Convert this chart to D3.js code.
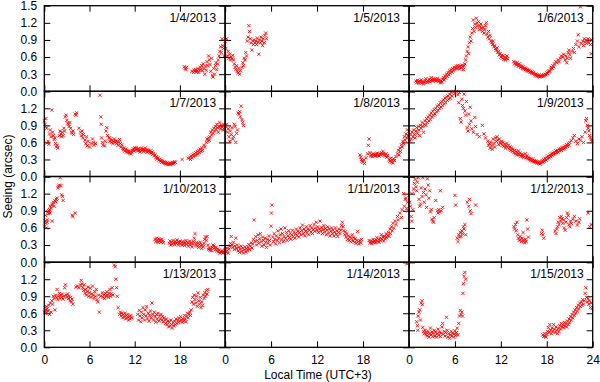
<!DOCTYPE html>
<html><head><meta charset="utf-8">
<script src="https://cdn.jsdelivr.net/npm/d3@7"></script>
<style>html,body{margin:0;padding:0;background:#fff;}svg{display:block;}</style>
</head><body>
<svg id="c" width="600" height="382"></svg>
<script>
const dates = ["1/4/2013","1/5/2013","1/6/2013","1/7/2013","1/8/2013","1/9/2013","1/10/2013","1/11/2013","1/12/2013","1/13/2013","1/14/2013","1/15/2013"];
const xTicks = [0,6,12,18,24];
const xTickLabels = ["0","6","12","18","24"];
const yTicks = [0,0.3,0.6,0.9,1.2,1.5];
const yTickLabels = ["0.0","0.3","0.6","0.9","1.2","1.5"];

const s0104 = [[18.6,0.43],[18.7,0.40],[18.8,0.38],[18.9,0.42],[19.6,0.35],[19.8,0.33],[19.9,0.37],[20.0,0.35],[20.1,0.38],[20.2,0.34],[20.3,0.36],[20.4,0.40],[20.5,0.33],[20.6,0.37],[20.7,0.42],[20.8,0.38],[20.9,0.45],[21.0,0.36],[21.1,0.48],[21.2,0.40],[21.3,0.30],[21.4,0.44],[21.5,0.37],[21.6,0.52],[21.7,0.45],[21.8,0.62],[21.9,0.55],[22.0,0.47],[22.1,0.35],[22.2,0.58],[22.3,0.28],[22.4,0.25],[22.5,0.40],[22.6,0.30],[22.7,0.45],[22.8,0.50],[22.9,0.38],[23.0,0.48],[23.1,0.55],[23.2,0.62],[23.3,0.70],[23.4,0.78],[23.5,0.68],[23.6,0.92],[23.7,0.80],[23.8,0.75],[23.9,0.62]];
const s0105 = [[0.0,0.88],[0.1,0.75],[0.2,0.92],[0.3,0.62],[0.4,0.70],[0.5,0.58],[0.6,0.65],[0.7,0.55],[0.8,0.60],[0.9,0.57],[1.0,0.63],[1.1,0.55],[1.2,0.48],[1.3,0.42],[1.4,0.38],[1.5,0.45],[1.6,0.35],[1.7,0.32],[1.8,0.40],[1.9,0.30],[2.0,0.36],[2.2,0.42],[2.3,0.50],[2.4,0.45],[2.5,0.58],[2.6,0.55],[2.7,0.68],[2.8,0.62],[2.9,0.88],[3.0,0.95],[3.1,1.15],[3.2,1.05],[3.3,0.92],[3.4,0.85],[3.5,0.72],[3.6,0.88],[3.7,0.82],[3.8,0.90],[3.9,0.85],[4.0,0.88],[4.1,0.82],[4.2,0.93],[4.3,0.86],[4.4,0.65],[4.5,0.90],[4.6,0.85],[4.7,0.95],[4.8,0.88],[4.9,0.80],[5.0,0.92],[5.1,0.85],[5.2,0.98],[5.3,1.02],[5.4,0.92]];
const s0106 = [[0.9,0.18],[1.0,0.15],[1.1,0.19],[1.2,0.17],[1.3,0.14],[1.4,0.18],[1.5,0.16],[1.6,0.20],[1.7,0.15],[1.8,0.17],[1.9,0.13],[2.0,0.16],[2.1,0.19],[2.2,0.22],[2.3,0.17],[2.4,0.15],[2.5,0.18],[2.6,0.21],[2.7,0.17],[2.8,0.19],[2.9,0.24],[3.0,0.20],[3.1,0.18],[3.2,0.22],[3.3,0.19],[3.4,0.21],[3.5,0.18],[3.6,0.20],[3.7,0.23],[3.8,0.19],[3.9,0.17],[4.0,0.20],[4.1,0.15],[4.2,0.18],[4.3,0.16],[4.4,0.21],[4.5,0.24],[4.6,0.20],[4.7,0.27],[4.8,0.23],[4.9,0.30],[5.0,0.26],[5.1,0.33],[5.2,0.29],[5.3,0.36],[5.4,0.32],[5.5,0.38],[5.6,0.34],[5.7,0.40],[5.8,0.36],[5.9,0.42],[6.0,0.38],[6.1,0.41],[6.2,0.44],[6.3,0.40],[6.4,0.45],[6.5,0.42],[6.6,0.39],[6.7,0.44],[6.8,0.41],[6.9,0.46],[7.0,0.43],[7.1,0.38],[7.2,0.45],[7.3,0.48],[7.4,0.55],[7.5,0.62],[7.6,0.70],[7.7,0.78],[7.8,0.66],[7.9,0.85],[8.0,0.95],[8.1,0.88],[8.2,1.02],[8.3,1.10],[8.4,1.25],[8.5,1.05],[8.6,1.18],[8.7,1.12],[8.8,1.28],[8.9,1.20],[9.0,1.15],[9.1,1.22],[9.2,1.08],[9.3,1.14],[9.4,1.18],[9.5,1.10],[9.6,1.05],[9.7,1.12],[9.8,1.02],[9.9,1.08],[10.0,1.15],[10.1,1.20],[10.2,1.00],[10.3,0.95],[10.4,1.05],[10.5,0.92],[10.6,0.98],[10.7,0.88],[10.8,0.85],[10.9,0.82],[11.0,0.88],[11.1,0.78],[11.2,0.80],[11.3,0.75],[11.4,0.72],[11.5,0.76],[11.6,0.68],[11.7,0.70],[11.8,0.64],[11.9,0.66],[12.0,0.60],[12.1,0.63],[12.2,0.58],[12.3,0.62],[12.4,0.56],[12.5,0.60],[12.6,0.55],[12.7,0.58],[12.8,0.62],[12.9,0.57],[13.7,0.52],[13.8,0.48],[13.9,0.50],[14.0,0.46],[14.1,0.50],[14.2,0.47],[14.3,0.44],[14.4,0.48],[14.5,0.45],[14.6,0.42],[14.7,0.44],[14.8,0.40],[14.9,0.43],[15.0,0.39],[15.1,0.41],[15.2,0.38],[15.3,0.40],[15.4,0.36],[15.5,0.38],[15.6,0.35],[15.7,0.37],[15.8,0.33],[15.9,0.35],[16.0,0.32],[16.1,0.34],[16.2,0.31],[16.3,0.33],[16.4,0.30],[16.5,0.28],[16.6,0.30],[16.7,0.27],[16.8,0.29],[16.9,0.26],[17.0,0.28],[17.1,0.25],[17.2,0.27],[17.3,0.26],[17.4,0.28],[17.5,0.26],[17.6,0.29],[17.7,0.27],[17.8,0.30],[17.9,0.29],[18.0,0.32],[18.1,0.31],[18.2,0.34],[18.3,0.36],[18.4,0.35],[18.5,0.39],[18.6,0.42],[18.7,0.40],[18.8,0.45],[18.9,0.43],[19.0,0.48],[19.2,0.52],[19.3,0.50],[19.5,0.55],[19.6,0.52],[19.8,0.58],[19.9,0.62],[20.1,0.60],[20.2,0.65],[20.4,0.55],[20.5,0.62],[20.6,0.50],[20.7,0.58],[20.8,0.68],[20.9,0.72],[21.0,0.64],[21.1,0.58],[21.3,0.70],[21.5,0.75],[21.6,0.68],[21.8,0.82],[22.0,0.88],[22.1,0.99],[22.2,0.78],[22.4,1.48],[22.5,0.84],[22.7,0.88],[22.8,0.80],[22.9,0.92],[23.0,0.86],[23.1,0.90],[23.2,0.84],[23.3,0.88],[23.4,0.92],[23.5,0.85],[23.6,0.89],[23.7,0.82],[23.8,0.66],[23.9,0.90]];
const s0107 = [[0.0,0.98],[0.1,0.92],[0.15,0.88],[0.2,1.02],[0.3,0.85],[0.4,0.59],[0.5,0.62],[0.6,0.57],[0.7,0.75],[0.8,0.82],[0.9,0.70],[1.0,1.17],[1.1,0.78],[1.2,0.72],[1.3,0.65],[1.4,0.68],[1.5,0.58],[1.6,0.52],[1.7,0.55],[1.8,0.50],[2.0,0.72],[2.1,0.80],[2.2,0.75],[2.3,0.70],[2.4,0.78],[2.5,0.72],[2.6,0.85],[2.7,0.80],[2.8,1.05],[2.9,1.08],[3.0,0.99],[3.1,0.94],[3.2,0.92],[3.3,0.88],[3.4,0.95],[3.5,0.85],[3.6,0.78],[3.7,0.76],[3.8,0.80],[3.9,0.74],[4.1,1.10],[4.2,1.08],[4.3,1.12],[4.6,0.85],[4.8,0.78],[4.9,0.72],[5.0,0.80],[5.1,0.68],[5.2,0.74],[5.4,0.64],[5.5,0.58],[5.6,0.70],[5.7,0.54],[5.8,0.62],[6.0,0.52],[6.2,0.58],[6.4,0.66],[6.5,0.60],[6.6,0.55],[6.8,0.58],[7.4,1.43],[7.5,1.05],[7.55,0.92],[7.6,0.68],[7.7,0.60],[7.8,0.55],[8.0,0.54],[8.1,0.62],[8.2,0.80],[8.3,0.86],[8.4,0.72],[8.6,0.68],[8.7,0.62],[8.8,0.66],[8.9,0.60],[9.0,0.64],[9.1,0.58],[9.2,0.62],[9.3,0.66],[9.4,0.60],[9.5,0.63],[9.6,0.58],[9.7,0.62],[9.8,0.55],[9.9,0.60],[10.0,0.65],[10.1,0.58],[10.2,0.52],[10.3,0.56],[10.4,0.50],[10.5,0.47],[10.6,0.50],[10.7,0.45],[10.8,0.48],[10.9,0.43],[11.0,0.46],[11.1,0.42],[11.2,0.45],[11.3,0.41],[11.4,0.44],[11.5,0.40],[11.6,0.43],[11.7,0.46],[11.8,0.49],[11.9,0.45],[12.0,0.50],[12.1,0.47],[12.2,0.51],[12.3,0.48],[12.4,0.45],[12.5,0.49],[12.6,0.46],[12.7,0.43],[12.8,0.47],[12.9,0.50],[13.0,0.46],[13.1,0.48],[13.2,0.44],[13.3,0.47],[13.4,0.50],[13.5,0.46],[13.6,0.43],[13.7,0.47],[13.8,0.44],[13.9,0.46],[14.0,0.42],[14.1,0.45],[14.2,0.41],[14.3,0.43],[14.4,0.39],[14.5,0.41],[14.6,0.36],[14.7,0.38],[14.8,0.33],[14.9,0.35],[15.0,0.31],[15.1,0.33],[15.2,0.29],[15.3,0.30],[15.4,0.27],[15.5,0.28],[15.6,0.25],[15.7,0.27],[15.8,0.24],[15.9,0.26],[16.0,0.23],[16.1,0.25],[16.2,0.22],[16.3,0.24],[16.4,0.21],[16.5,0.23],[16.6,0.22],[16.7,0.24],[16.8,0.21],[16.9,0.23],[17.0,0.25],[17.1,0.22],[17.2,0.24],[17.3,0.26],[17.4,0.25],[18.3,0.30],[19.1,0.32],[19.3,0.34],[19.4,0.30],[19.5,0.36],[19.6,0.33],[19.7,0.38],[19.8,0.35],[19.9,0.40],[20.0,0.37],[20.1,0.42],[20.2,0.38],[20.3,0.44],[20.4,0.40],[20.5,0.46],[20.6,0.42],[20.7,0.48],[20.8,0.44],[20.9,0.50],[21.0,0.46],[21.2,0.55],[21.3,0.52],[21.5,0.60],[21.6,0.66],[21.7,0.62],[21.8,0.68],[21.9,0.64],[22.0,0.70],[22.1,0.78],[22.2,0.73],[22.3,0.82],[22.4,0.76],[22.5,0.85],[22.6,0.80],[22.7,0.88],[22.8,0.83],[22.9,0.92],[23.0,0.86],[23.1,0.78],[23.2,0.88],[23.3,0.95],[23.4,0.84],[23.5,0.90],[23.6,0.87],[23.7,0.82],[23.8,0.92],[23.9,0.86]];
const s0108 = [[0.1,0.88],[0.2,0.92],[0.3,0.78],[0.4,0.84],[0.5,0.70],[0.6,0.62],[0.7,0.80],[0.8,0.74],[0.9,0.86],[1.0,0.66],[1.1,0.70],[1.2,0.92],[1.3,0.88],[1.4,0.60],[1.5,0.76],[1.6,0.82],[1.7,1.12],[1.8,1.10],[1.9,1.14],[2.0,1.05],[2.1,1.24],[2.2,1.00],[2.3,0.95],[2.4,0.90],[17.6,0.38],[17.7,0.34],[17.8,0.30],[17.9,0.27],[18.0,0.25],[18.1,0.29],[18.2,0.23],[18.4,0.33],[18.6,0.40],[18.7,0.55],[18.8,0.66],[18.9,0.42],[19.0,0.36],[19.1,0.38],[19.2,0.35],[19.3,0.40],[19.4,0.37],[19.5,0.39],[19.6,0.36],[19.7,0.38],[19.8,0.41],[19.9,0.37],[20.0,0.39],[20.1,0.36],[20.2,0.40],[20.3,0.38],[20.4,0.42],[20.5,0.39],[20.6,0.44],[20.7,0.41],[20.8,0.38],[20.9,0.36],[21.0,0.40],[21.1,0.34],[21.2,0.37],[21.4,0.30],[21.5,0.27],[21.6,0.32],[21.7,0.25],[21.8,0.29],[21.9,0.24],[22.0,0.31],[22.1,0.28],[22.3,0.35],[22.5,0.40],[22.6,0.46],[22.7,0.38],[22.8,0.50],[22.9,0.44],[23.0,0.56],[23.1,0.52],[23.2,0.62],[23.3,0.58],[23.4,0.70],[23.5,0.64],[23.6,0.75],[23.7,0.68],[23.8,0.82],[23.9,0.72]];
const s0109 = [[0.0,0.70],[0.1,0.62],[0.2,0.75],[0.3,0.66],[0.4,0.78],[0.5,0.70],[0.6,0.82],[0.7,0.74],[0.8,0.68],[0.9,0.80],[1.0,0.86],[1.1,0.76],[1.2,0.88],[1.3,0.82],[1.4,0.72],[1.5,0.90],[1.6,0.85],[1.7,0.95],[1.8,0.88],[1.9,0.78],[2.0,0.92],[2.1,0.98],[2.2,0.90],[2.3,1.02],[2.4,0.95],[2.5,1.05],[2.6,0.98],[2.7,1.08],[2.8,1.00],[2.9,1.12],[3.0,1.05],[3.1,1.15],[3.2,1.08],[3.3,1.18],[3.4,1.10],[3.5,1.20],[3.6,1.14],[3.7,1.24],[3.8,1.16],[3.9,1.26],[4.0,1.20],[4.1,1.30],[4.2,1.22],[4.3,1.32],[4.4,1.25],[4.5,1.35],[4.6,1.28],[4.7,1.38],[4.8,1.30],[4.9,1.40],[5.0,1.34],[5.1,1.42],[5.2,1.36],[5.3,1.45],[5.4,1.38],[5.5,1.48],[5.6,1.42],[5.8,1.50],[6.0,1.46],[6.2,1.50],[6.4,1.44],[6.5,1.30],[6.6,1.48],[6.7,1.02],[6.8,0.96],[6.9,1.36],[7.0,1.25],[7.1,1.20],[7.2,1.45],[7.3,1.15],[7.4,1.08],[7.5,1.32],[7.6,0.86],[7.7,0.80],[7.8,1.10],[7.9,0.92],[8.0,1.22],[8.1,0.98],[8.2,0.84],[8.4,0.78],[8.6,1.04],[8.7,0.88],[8.9,0.74],[9.2,0.70],[9.6,0.90],[9.8,0.75],[10.0,0.68],[10.3,0.62],[10.4,0.55],[10.5,0.58],[10.6,0.50],[10.7,0.60],[10.8,0.54],[10.9,0.48],[11.0,0.66],[11.1,0.58],[11.2,0.52],[11.3,0.68],[11.4,0.62],[11.5,0.70],[11.6,0.64],[11.7,0.56],[11.8,0.66],[11.9,0.60],[12.0,0.58],[12.1,0.62],[12.2,0.55],[12.3,0.60],[12.4,0.53],[12.5,0.57],[12.6,0.50],[12.7,0.54],[12.8,0.58],[12.9,0.51],[13.0,0.55],[13.1,0.48],[13.2,0.52],[13.3,0.46],[13.4,0.50],[13.5,0.44],[13.6,0.48],[13.7,0.42],[13.8,0.46],[13.9,0.40],[14.0,0.44],[14.1,0.38],[14.2,0.42],[14.3,0.45],[14.4,0.38],[14.5,0.41],[14.6,0.36],[14.7,0.39],[14.8,0.35],[14.9,0.38],[15.0,0.34],[15.2,0.40],[15.3,0.33],[15.4,0.36],[15.5,0.31],[15.6,0.34],[15.7,0.30],[15.8,0.32],[15.9,0.28],[16.0,0.31],[16.1,0.27],[16.2,0.30],[16.3,0.26],[16.4,0.28],[16.5,0.25],[16.6,0.27],[16.7,0.24],[16.8,0.26],[16.9,0.23],[17.0,0.25],[17.1,0.22],[17.2,0.24],[17.3,0.26],[17.4,0.28],[17.5,0.25],[17.6,0.30],[17.7,0.27],[17.8,0.32],[17.9,0.29],[18.0,0.34],[18.1,0.31],[18.2,0.36],[18.3,0.33],[18.4,0.38],[18.5,0.35],[18.6,0.40],[18.7,0.37],[18.8,0.41],[18.9,0.39],[19.0,0.43],[19.1,0.40],[19.2,0.45],[19.3,0.42],[19.4,0.46],[19.5,0.43],[19.6,0.48],[19.7,0.45],[19.8,0.49],[19.9,0.46],[20.0,0.51],[20.1,0.48],[20.2,0.52],[20.3,0.49],[20.4,0.54],[20.5,0.51],[20.6,0.56],[20.7,0.53],[20.8,0.58],[20.9,0.55],[21.0,0.60],[21.2,0.63],[21.4,0.68],[21.6,0.72],[21.8,0.62],[22.0,0.58],[22.2,0.66],[22.4,0.64],[22.6,0.70],[22.8,0.60],[23.0,0.78],[23.1,0.98],[23.2,1.02],[23.3,0.90],[23.4,0.85],[23.5,0.80],[23.6,0.72],[23.7,0.68],[23.8,0.65],[23.9,0.62]];
const s0110 = [[0.05,0.63],[0.1,0.72],[0.15,0.82],[0.2,0.68],[0.3,0.60],[0.35,0.70],[0.4,0.74],[0.5,0.88],[0.55,0.85],[0.6,0.90],[0.7,0.92],[0.75,0.86],[0.8,0.98],[0.9,0.95],[1.0,1.00],[1.05,0.72],[1.1,1.02],[1.2,1.05],[1.3,0.98],[1.4,1.08],[1.5,1.06],[1.6,1.10],[1.7,1.12],[1.8,1.30],[1.9,1.33],[2.0,1.35],[2.1,1.48],[2.2,1.34],[2.3,1.18],[2.4,1.15],[2.5,1.08],[3.7,0.82],[3.8,0.80],[4.1,0.86],[14.7,0.40],[14.8,0.36],[14.9,0.42],[15.0,0.38],[15.1,0.35],[15.2,0.41],[15.3,0.37],[15.4,0.39],[15.5,0.35],[15.6,0.40],[15.7,0.37],[15.8,0.34],[16.6,0.33],[16.7,0.37],[16.8,0.30],[16.9,0.35],[17.0,0.32],[17.1,0.38],[17.2,0.34],[17.3,0.31],[17.4,0.36],[17.5,0.33],[17.6,0.39],[17.7,0.35],[17.8,0.30],[17.9,0.34],[18.0,0.37],[18.1,0.32],[18.2,0.35],[18.3,0.30],[18.4,0.36],[18.5,0.33],[18.6,0.29],[18.7,0.34],[18.8,0.38],[18.9,0.31],[19.0,0.35],[19.1,0.28],[19.2,0.33],[19.3,0.37],[19.4,0.30],[19.5,0.34],[19.6,0.27],[19.7,0.32],[19.8,0.36],[19.9,0.42],[20.0,0.50],[20.1,0.30],[20.2,0.34],[20.3,0.28],[20.4,0.33],[20.5,0.26],[20.6,0.31],[20.7,0.35],[20.8,0.29],[20.9,0.24],[21.0,0.30],[21.1,0.27],[21.2,0.33],[21.3,0.40],[21.4,0.44],[21.5,0.38],[21.6,0.45],[21.7,0.30],[21.8,0.22],[21.9,0.25],[22.0,0.21],[22.1,0.24],[22.2,0.20],[22.3,0.26],[22.4,0.30],[22.5,0.28],[22.6,0.25],[22.7,0.22],[22.8,0.26],[22.9,0.20],[23.0,0.23],[23.1,0.18],[23.2,0.21],[23.3,0.16],[23.4,0.19],[23.5,0.17],[23.6,0.20],[23.7,0.16],[23.8,0.19],[23.9,0.17]];
const s0111 = [[0.0,0.22],[0.1,0.18],[0.2,0.25],[0.3,0.20],[0.4,0.16],[0.5,0.23],[0.6,0.28],[0.7,0.33],[0.8,0.45],[0.9,0.30],[1.0,0.26],[1.1,0.35],[1.2,0.22],[1.3,0.28],[1.4,0.42],[1.5,0.24],[1.6,0.30],[1.7,0.20],[1.8,0.26],[1.9,0.17],[2.0,0.23],[2.1,0.28],[2.2,0.19],[2.3,0.25],[2.4,0.16],[2.5,0.22],[2.6,0.27],[2.7,0.18],[2.8,0.24],[2.9,0.20],[3.0,0.26],[3.1,0.31],[3.2,0.22],[3.3,0.28],[3.4,0.34],[3.5,0.25],[3.6,0.32],[3.7,0.40],[3.8,0.74],[3.9,0.36],[4.0,0.45],[4.1,0.30],[4.2,0.38],[4.3,0.48],[4.4,0.33],[4.5,0.41],[4.6,0.50],[4.7,0.36],[4.8,0.28],[4.9,0.44],[5.0,0.38],[5.1,0.30],[5.2,0.42],[5.3,0.35],[5.4,0.26],[5.5,0.40],[5.6,0.33],[5.7,0.46],[5.8,0.38],[5.9,0.30],[6.0,0.63],[6.05,0.86],[6.1,1.00],[6.2,0.44],[6.3,0.36],[6.4,0.50],[6.5,0.40],[6.6,0.32],[6.7,0.46],[6.8,0.38],[6.9,0.55],[7.0,0.42],[7.1,0.34],[7.2,0.48],[7.3,0.58],[7.4,0.40],[7.5,0.50],[7.6,0.36],[7.7,0.45],[7.8,0.60],[7.9,0.42],[8.0,0.52],[8.1,0.38],[8.2,0.46],[8.3,0.55],[8.4,0.43],[8.5,0.50],[8.6,0.40],[8.7,0.48],[8.8,0.56],[8.9,0.45],[9.0,0.52],[9.1,0.42],[9.2,0.50],[9.3,0.58],[9.4,0.47],[9.5,0.54],[9.6,0.44],[9.7,0.52],[9.8,0.60],[9.9,0.48],[10.0,0.55],[10.1,0.65],[10.2,0.50],[10.3,0.58],[10.4,0.46],[10.5,0.54],[10.6,0.62],[10.7,0.52],[10.8,0.58],[10.9,0.48],[11.0,0.56],[11.1,0.64],[11.2,0.53],[11.3,0.60],[11.4,0.50],[11.5,0.57],[11.6,0.66],[11.7,0.54],[11.8,0.60],[11.9,0.70],[12.0,0.56],[12.1,0.62],[12.2,0.52],[12.3,0.58],[12.4,0.72],[12.5,0.55],[12.6,0.61],[12.7,0.50],[12.8,0.57],[12.9,0.64],[13.0,0.53],[13.1,0.59],[13.2,0.48],[13.3,0.56],[13.4,0.62],[13.5,0.51],[13.6,0.58],[13.7,0.46],[13.8,0.54],[13.9,0.60],[14.0,0.50],[14.1,0.56],[14.2,0.46],[14.3,0.53],[14.4,0.60],[14.5,0.49],[14.6,0.55],[14.7,0.45],[14.8,0.52],[14.9,0.58],[15.0,0.50],[15.1,0.56],[15.2,0.64],[15.3,0.70],[15.4,0.62],[15.5,0.55],[15.6,0.48],[15.7,0.53],[15.8,0.44],[15.9,0.50],[16.0,0.40],[16.1,0.46],[16.2,0.38],[16.3,0.44],[16.4,0.36],[16.5,0.42],[16.6,0.48],[16.7,0.37],[16.8,0.43],[16.9,0.35],[17.0,0.41],[17.1,0.33],[17.2,0.38],[17.3,0.54],[17.4,0.36],[17.5,0.32],[17.6,0.38],[17.7,0.34],[17.8,0.40],[18.8,0.38],[18.9,0.34],[19.0,0.37],[19.1,0.33],[19.2,0.36],[19.3,0.40],[19.4,0.35],[19.5,0.38],[19.6,0.34],[19.7,0.39],[19.8,0.43],[19.9,0.36],[20.0,0.40],[20.1,0.35],[20.2,0.42],[20.3,0.38],[20.4,0.48],[20.5,0.40],[20.6,0.44],[20.7,0.37],[20.8,0.45],[20.9,0.41],[21.0,0.50],[21.1,0.43],[21.2,0.47],[21.3,0.52],[21.4,0.45],[21.5,0.58],[21.6,0.50],[21.7,0.62],[21.8,0.55],[21.9,0.68],[22.0,0.60],[22.2,0.72],[22.3,0.66],[22.5,0.80],[22.6,0.74],[22.8,0.86],[23.0,0.78],[23.1,0.92],[23.3,1.20],[23.4,0.98],[23.5,1.10],[23.6,1.12],[23.7,0.94],[23.8,1.05],[23.9,0.90]];
const s0112 = [[0.1,1.05],[0.2,0.98],[0.3,0.80],[0.35,0.72],[0.4,1.20],[0.5,0.92],[0.6,1.28],[0.7,1.38],[0.8,1.45],[0.9,1.32],[1.0,1.25],[1.1,1.40],[1.2,1.48],[1.3,1.10],[1.4,0.98],[1.5,1.02],[1.6,1.30],[1.7,1.15],[1.8,1.48],[1.9,1.22],[2.0,1.05],[2.1,1.28],[2.2,1.18],[2.3,0.96],[2.4,1.46],[2.5,1.35],[2.6,1.12],[2.7,1.25],[2.8,0.88],[2.9,0.92],[3.0,0.75],[3.1,0.72],[3.2,0.70],[3.3,0.78],[3.5,1.08],[3.7,0.90],[3.8,0.86],[3.9,0.92],[4.0,0.88],[4.1,1.25],[4.2,0.90],[4.4,0.96],[6.0,1.17],[6.1,1.00],[6.3,0.42],[6.4,0.36],[6.5,0.48],[6.6,0.44],[6.7,0.52],[6.8,0.45],[6.9,0.55],[7.0,0.50],[7.1,0.62],[7.2,0.58],[7.3,0.66],[7.4,0.48],[7.6,1.05],[7.8,0.98],[7.9,1.10],[8.0,0.90],[8.1,0.85],[8.7,1.00],[13.7,0.62],[13.8,0.58],[13.9,0.66],[14.0,0.55],[14.1,0.70],[14.2,0.48],[14.3,0.42],[14.4,0.38],[14.5,0.45],[14.6,0.40],[14.7,0.36],[14.8,0.42],[14.9,0.52],[15.0,0.38],[15.1,0.34],[15.2,0.40],[15.3,0.36],[15.4,0.74],[15.5,0.58],[15.6,0.44],[17.3,0.50],[17.4,0.56],[17.5,0.48],[17.6,0.42],[19.1,0.55],[19.2,0.50],[19.3,0.58],[19.4,0.62],[19.5,0.70],[19.6,0.66],[19.7,0.78],[19.8,0.72],[19.9,0.80],[20.0,0.76],[20.1,0.68],[20.2,0.74],[20.3,0.60],[20.4,0.56],[20.5,0.70],[20.6,0.78],[20.7,0.86],[20.8,0.82],[20.9,0.66],[21.0,0.62],[21.1,0.72],[21.2,0.68],[21.4,0.75],[21.6,0.80],[21.8,0.72],[22.0,0.65],[22.2,0.70],[22.3,0.76],[23.4,0.86],[23.6,0.62],[23.8,0.66]];
const s0113 = [[0.05,0.62],[0.1,0.70],[0.15,0.60],[0.2,0.66],[0.25,0.72],[0.3,0.62],[0.4,0.68],[0.5,0.64],[0.6,0.74],[0.7,0.58],[0.8,0.78],[0.9,0.62],[1.0,0.82],[1.1,0.76],[1.2,0.90],[1.3,0.86],[1.4,0.66],[1.5,0.92],[1.6,0.88],[1.7,1.02],[1.8,0.84],[1.9,0.90],[2.0,0.95],[2.1,0.86],[2.2,0.92],[2.3,0.88],[2.4,0.94],[2.5,0.85],[2.6,0.90],[2.7,1.05],[2.8,1.10],[2.9,0.92],[3.0,0.88],[3.1,0.94],[3.2,0.86],[3.3,0.90],[3.4,0.82],[3.5,0.88],[3.6,0.80],[3.7,0.85],[3.8,0.76],[4.2,1.06],[4.4,1.08],[4.6,1.05],[4.8,1.10],[4.9,1.18],[5.0,1.12],[5.1,1.05],[5.2,1.00],[5.3,1.10],[5.4,0.95],[5.5,1.02],[5.6,0.92],[5.7,0.98],[5.8,1.06],[5.9,0.90],[6.0,0.96],[6.1,1.04],[6.2,0.88],[6.3,0.94],[6.4,1.08],[6.5,0.92],[6.6,0.86],[6.7,0.98],[6.8,0.90],[6.9,1.02],[7.0,0.84],[7.1,0.80],[7.2,0.92],[7.3,0.62],[7.5,0.90],[7.7,0.96],[7.8,0.88],[7.9,0.92],[8.0,0.86],[8.1,0.95],[8.2,0.90],[8.3,0.98],[8.4,0.92],[8.5,0.88],[8.6,0.95],[8.7,1.02],[8.8,0.90],[8.9,0.94],[9.0,1.05],[9.1,0.92],[9.3,1.45],[9.4,1.42],[9.5,1.20],[9.6,1.05],[9.7,0.90],[9.8,0.70],[10.0,0.58],[10.1,0.62],[10.2,0.55],[10.3,0.60],[10.4,0.52],[10.5,0.58],[10.6,0.54],[10.7,0.60],[10.8,0.50],[10.9,0.56],[11.0,0.52],[11.1,0.58],[11.2,0.48],[11.3,0.54],[11.4,0.50],[11.5,0.56],[11.6,0.52],[12.4,0.58],[12.5,0.48],[12.6,0.65],[12.7,0.55],[12.8,0.45],[12.9,0.62],[13.0,0.52],[13.1,0.70],[13.2,0.58],[13.3,0.48],[13.4,0.66],[13.5,0.55],[13.6,0.72],[13.7,0.50],[13.8,0.60],[13.9,0.46],[14.0,0.56],[14.1,0.64],[14.2,0.52],[14.3,0.78],[14.4,0.58],[14.5,0.48],[14.6,0.62],[14.7,0.54],[14.8,0.44],[14.9,0.58],[15.0,0.50],[15.1,0.60],[15.2,0.46],[15.3,0.55],[15.4,0.50],[15.5,0.58],[15.6,0.48],[15.7,0.54],[15.8,0.45],[15.9,0.52],[16.0,0.48],[16.1,0.42],[16.2,0.50],[16.3,0.40],[16.4,0.46],[16.5,0.36],[16.6,0.44],[16.7,0.38],[16.8,0.48],[16.9,0.40],[17.0,0.34],[17.1,0.44],[17.2,0.38],[17.3,0.46],[17.4,0.40],[17.5,0.50],[17.6,0.42],[17.7,0.48],[17.8,0.44],[17.9,0.52],[18.0,0.46],[18.1,0.54],[18.2,0.48],[18.3,0.44],[18.4,0.50],[18.5,0.46],[18.6,0.56],[18.7,0.50],[18.8,0.45],[18.9,0.55],[19.0,0.60],[19.1,0.52],[19.2,0.58],[19.3,0.62],[19.4,0.56],[19.5,0.66],[19.6,0.80],[19.7,0.88],[19.8,0.76],[19.9,0.92],[20.0,0.84],[20.1,0.78],[20.2,0.90],[20.3,0.72],[20.4,0.96],[20.5,0.82],[20.6,0.76],[20.7,0.88],[20.8,0.70],[20.9,0.80],[21.0,0.74],[21.1,0.92],[21.2,0.86],[21.3,0.96],[21.4,0.90],[21.5,1.00],[21.6,0.94],[21.7,1.02]];
const s0114 = [[23.7,1.47]];
const s0115 = [[1.0,0.45],[1.1,0.38],[1.15,0.30],[1.2,0.55],[1.3,0.62],[1.4,0.66],[1.5,0.48],[1.6,0.78],[1.7,0.82],[1.75,0.75],[1.8,0.35],[1.9,0.28],[2.0,0.24],[2.1,0.30],[2.2,0.22],[2.3,0.26],[2.4,0.20],[2.5,0.28],[2.6,0.18],[2.7,0.24],[2.8,0.34],[2.9,0.22],[3.0,0.27],[3.1,0.19],[3.2,0.25],[3.3,0.30],[3.4,0.20],[3.5,0.26],[3.6,0.18],[3.7,0.24],[3.8,0.32],[3.9,0.21],[4.0,0.27],[4.1,0.19],[4.2,0.25],[4.3,0.36],[4.4,0.42],[4.5,0.23],[4.6,0.28],[4.7,0.20],[4.8,0.26],[4.9,0.53],[5.0,0.30],[5.1,0.18],[5.2,0.24],[5.3,0.16],[5.4,0.22],[5.5,0.28],[5.6,0.20],[5.7,0.25],[5.8,0.18],[5.9,0.24],[6.0,0.29],[6.1,0.21],[6.2,0.26],[6.3,0.34],[6.4,0.22],[6.5,0.42],[6.6,0.55],[6.7,0.65],[6.8,0.58],[6.9,0.62],[7.0,0.55],[7.05,0.95],[7.1,1.12],[7.2,1.25],[7.3,1.32],[7.4,1.20],[17.5,0.22],[17.6,0.19],[17.7,0.24],[17.8,0.20],[17.9,0.18],[18.0,0.23],[18.1,0.28],[18.2,0.35],[18.3,0.26],[18.4,0.40],[18.5,0.30],[18.6,0.24],[18.7,0.34],[18.8,0.28],[18.9,0.40],[19.0,0.32],[19.1,0.26],[19.2,0.36],[19.3,0.30],[19.4,0.24],[19.5,0.33],[19.6,0.28],[19.7,0.38],[19.8,0.32],[19.9,0.42],[20.0,0.36],[20.1,0.40],[20.2,0.34],[20.3,0.44],[20.4,0.38],[20.5,0.42],[20.6,0.36],[20.7,0.46],[20.8,0.40],[20.9,0.50],[21.0,0.44],[21.1,0.54],[21.2,0.48],[21.3,0.58],[21.4,0.52],[21.5,0.62],[21.6,0.56],[21.7,0.66],[21.8,0.60],[21.9,0.70],[22.0,0.64],[22.1,0.74],[22.2,0.68],[22.3,0.78],[22.4,0.72],[22.5,0.80],[22.6,0.74],[22.7,0.84],[22.8,0.76],[22.9,0.82],[23.0,0.95],[23.1,1.05],[23.2,0.88],[23.3,0.80],[23.4,0.86],[23.5,0.76],[23.6,0.82],[23.7,0.70],[23.8,0.78],[23.9,0.68]];

const series = [s0104,s0105,s0106,s0107,s0108,s0109,s0110,s0111,s0112,s0113,s0114,s0115];

const svg = d3.select("#c");
const FONT = "'Liberation Sans', Arial, Helvetica, sans-serif";
const colEdges = [44.3, 225.1, 409, 592.7];
const rowEdges = [5.7, 91.3, 176.5, 262.2, 347.3];
const TL = 6;
const cross = "M-1.6,-1.6L1.6,1.6M-1.6,1.6L1.6,-1.6";

dates.forEach((date, i) => {
  const r = Math.floor(i / 3), c = i % 3;
  const x = d3.scaleLinear().domain([0, 24]).range([colEdges[c], colEdges[c+1]]);
  const y = d3.scaleLinear().domain([0, 1.5]).range([rowEdges[r+1], rowEdges[r]]);
  const g = svg.append("g");
  const tk = (sel) => { sel.select(".domain").remove(); sel.selectAll("line").attr("stroke", "#000").attr("stroke-width", 1); sel.selectAll("text").remove(); };
  g.append("g").attr("transform", `translate(0,${y(0)})`).call(d3.axisBottom(x).tickValues(xTicks).tickSize(-TL)).call(tk);
  g.append("g").attr("transform", `translate(0,${y(1.5)})`).call(d3.axisTop(x).tickValues(xTicks).tickSize(-TL)).call(tk);
  g.append("g").attr("transform", `translate(${x(0)},0)`).call(d3.axisLeft(y).tickValues(yTicks).tickSize(-TL)).call(tk);
  g.append("g").attr("transform", `translate(${x(24)},0)`).call(d3.axisRight(y).tickValues(yTicks).tickSize(-TL)).call(tk);

  g.append("g").selectAll("path").data(series[i]).join("path")
    .attr("d", cross)
    .attr("transform", d => `translate(${x(d[0])},${y(d[1])})`)
    .attr("stroke", "#ff0000").attr("stroke-width", 0.9).attr("fill", "none");

  g.append("rect").attr("x", x(0)).attr("y", y(1.5))
    .attr("width", x(24) - x(0)).attr("height", y(0) - y(1.5))
    .attr("fill", "none").attr("stroke", "#000").attr("stroke-width", 1.3);

  g.append("text").attr("x", x(24) - 9).attr("y", y(1.5) + 16)
    .attr("text-anchor", "end").attr("font-family", FONT).attr("font-size", 12)
    .attr("fill", "#000").text(date);

  if (c === 0) {
    const vals = r === 0 ? yTicks : yTicks.slice(0, 5);
    const ax = g.append("g").attr("transform", `translate(${x(0)},0)`)
      .call(d3.axisLeft(y).tickValues(vals).tickSize(0).tickPadding(7)
        .tickFormat(v => yTickLabels[yTicks.indexOf(v)]));
    ax.select(".domain").remove();
    ax.attr("font-family", FONT).attr("font-size", 12);
    ax.selectAll("text").attr("fill", "#000");
  }
  if (r === 3) {
    const vals = c === 2 ? xTicks : xTicks.slice(0, 4);
    const ax = g.append("g").attr("transform", `translate(0,${y(0)})`)
      .call(d3.axisBottom(x).tickValues(vals).tickSize(0).tickPadding(8.5)
        .tickFormat(v => xTickLabels[xTicks.indexOf(v)]));
    ax.select(".domain").remove();
    ax.attr("font-family", FONT).attr("font-size", 12);
    ax.selectAll("text").attr("fill", "#000");
  }
});

svg.append("text").attr("transform", "translate(12,176.5) rotate(-90)")
  .attr("text-anchor", "middle").attr("font-family", FONT).attr("font-size", 12)
  .attr("fill", "#000").text("Seeing (arcsec)");
svg.append("text").attr("x", 318).attr("y", 378.5)
  .attr("text-anchor", "middle").attr("font-family", FONT).attr("font-size", 12)
  .attr("fill", "#000").text("Local Time (UTC+3)");
</script>
</body></html>
